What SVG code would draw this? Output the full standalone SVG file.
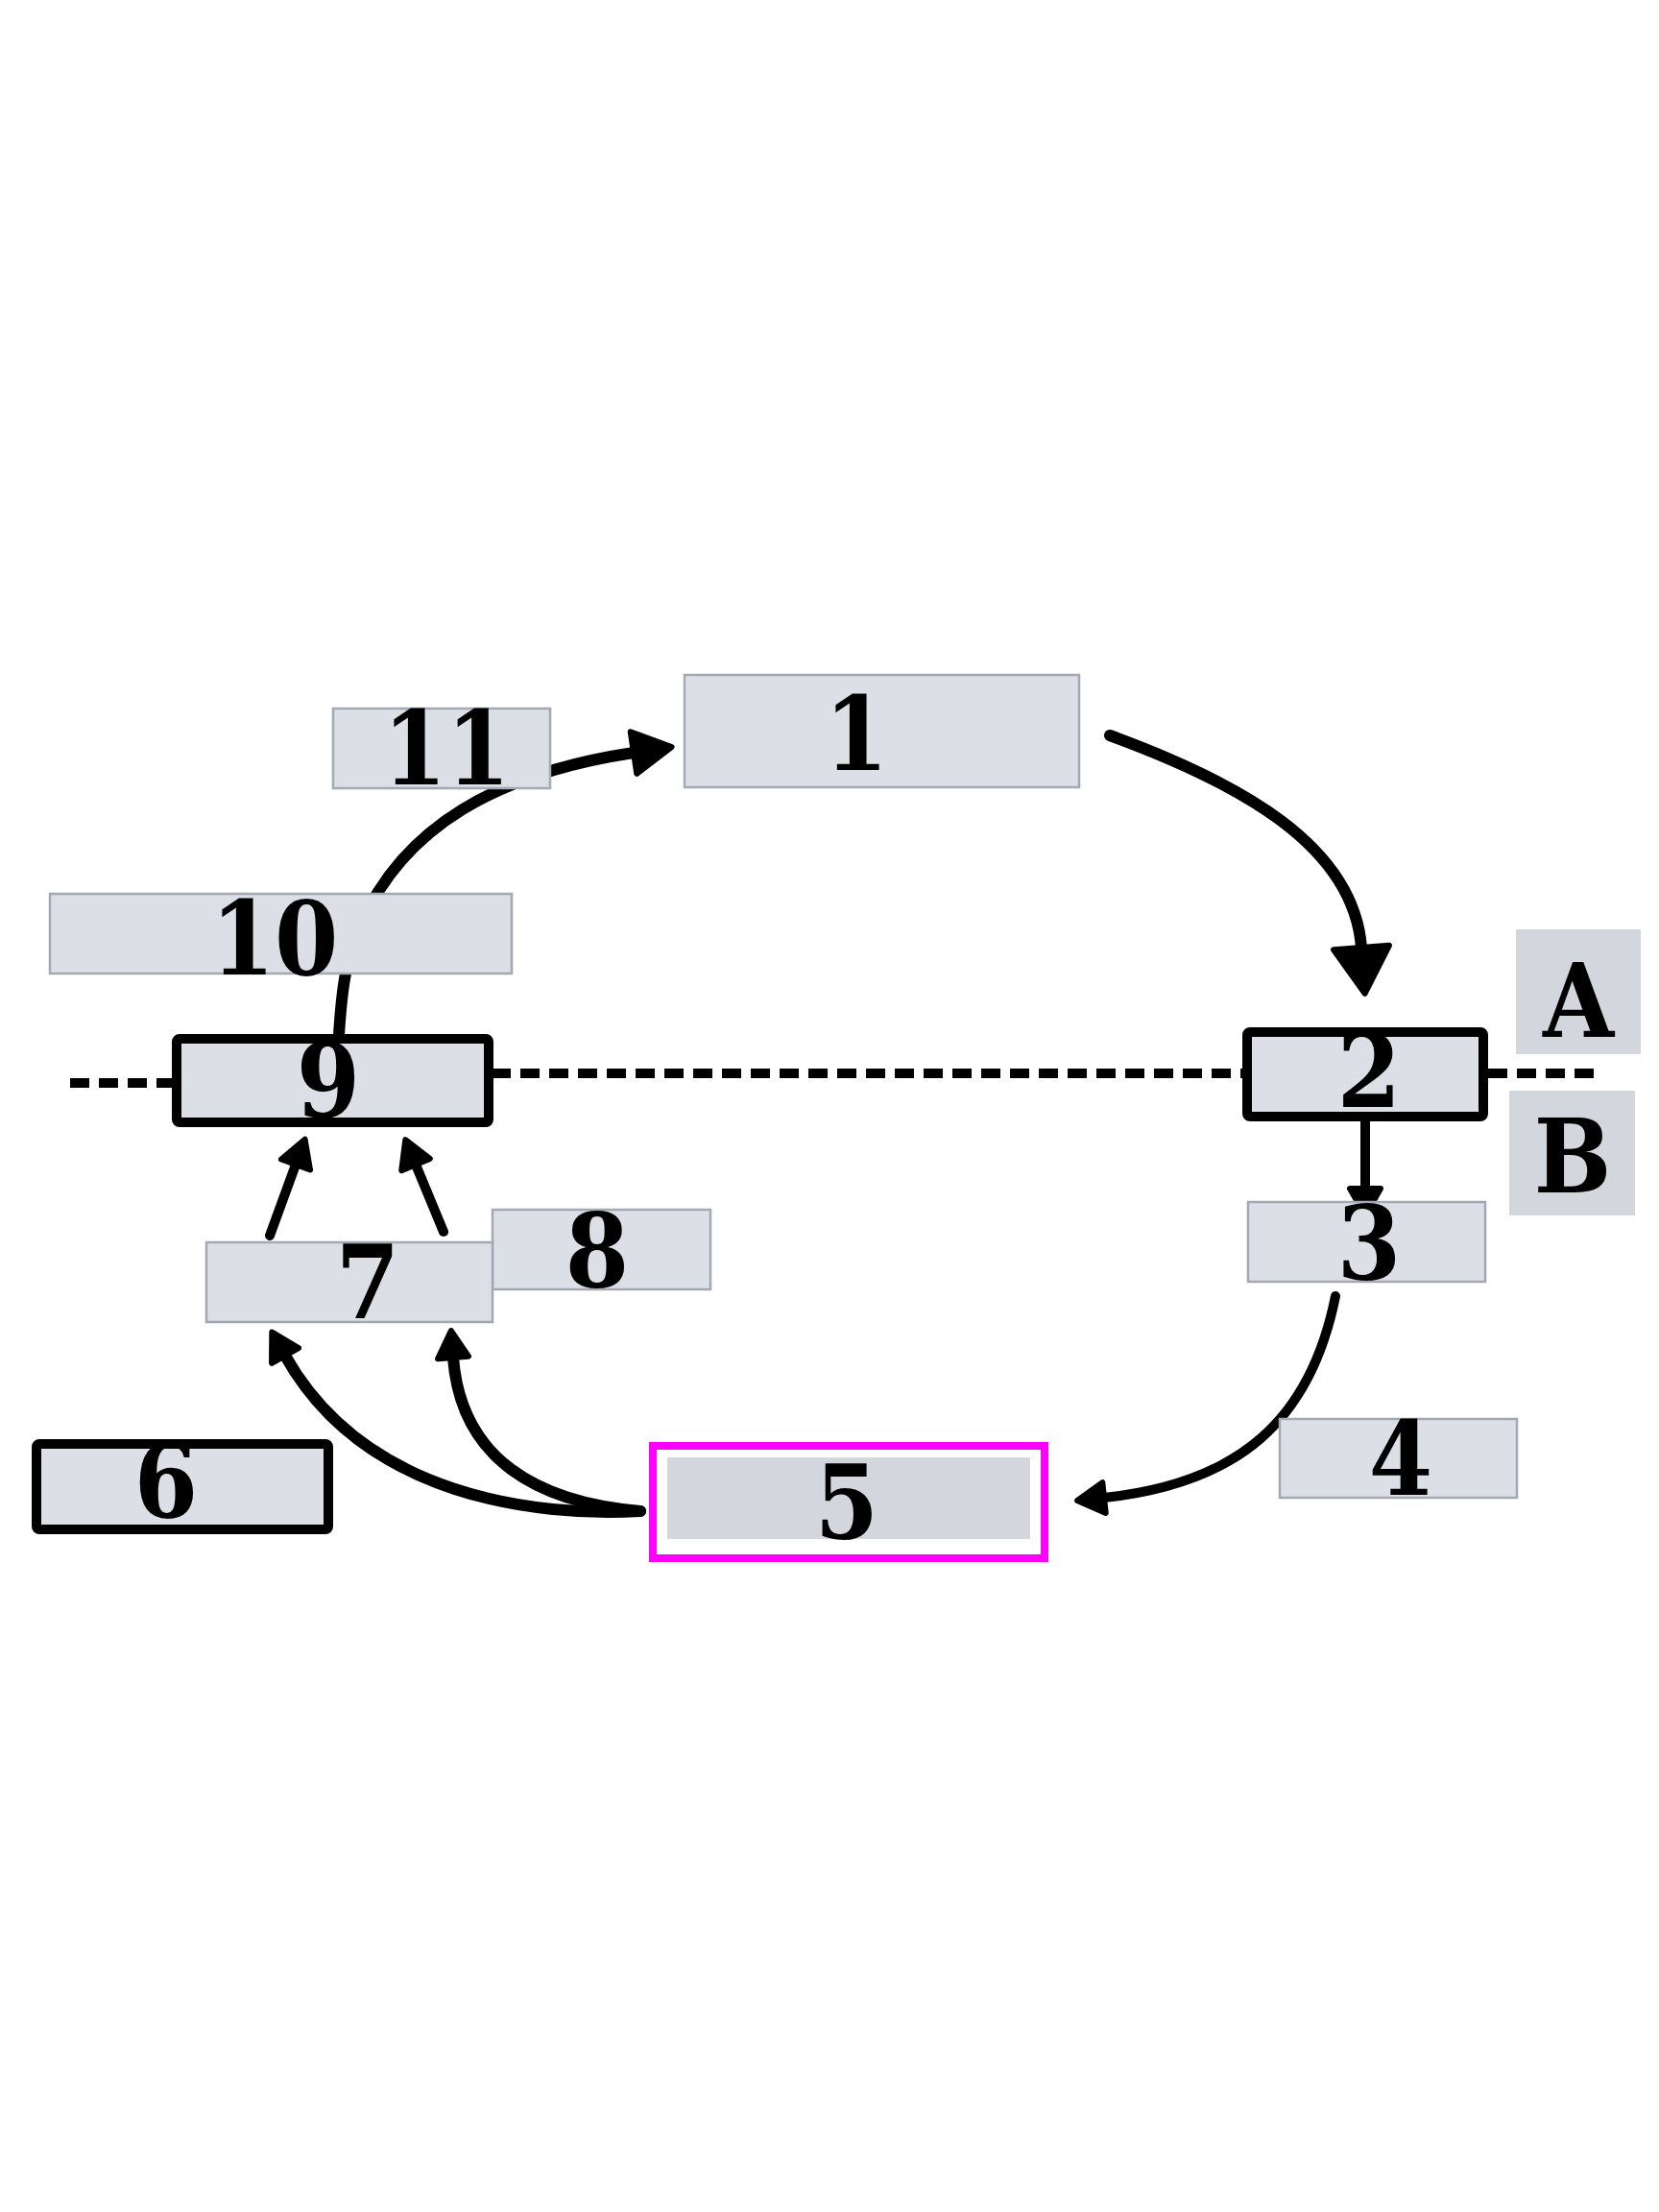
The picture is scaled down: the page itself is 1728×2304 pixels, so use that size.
<svg xmlns="http://www.w3.org/2000/svg" width="1728" height="2304" viewBox="0 0 1728 2304">
<style>
.lbl{font-family:"DejaVu Serif","Liberation Serif",serif;font-stretch:semi-condensed;font-weight:bold;font-size:106px;fill:#000;text-anchor:middle}
.box{fill:#dce0e6;stroke:#a3a8b5;stroke-width:2.5}
.tbox{fill:#dce0e6;stroke:#000;stroke-width:10}
.plain{fill:#d3d7dd;stroke:none}
.con{fill:none;stroke:#000;stroke-width:12;stroke-linecap:round}
.thin{stroke-width:10}
.dash{fill:none;stroke:#000;stroke-width:10;stroke-dasharray:20 10}
.head{fill:#000;stroke:#000;stroke-width:6;stroke-linejoin:round}
</style>
<defs>
<marker id="bigHead" markerUnits="userSpaceOnUse" markerWidth="64" markerHeight="74" viewBox="-6 -37 64 74" refX="0" refY="0" orient="auto">
<path class="head" d="M0,-29 L48,0 L0,29 Z"/>
</marker>
<marker id="midHead" markerUnits="userSpaceOnUse" markerWidth="56" markerHeight="60" viewBox="-6 -30 56 60" refX="0" refY="0" orient="auto">
<path class="head" d="M0,-22 L40,0 L0,22 Z"/>
</marker>
<marker id="smallHead" markerUnits="userSpaceOnUse" markerWidth="44" markerHeight="48" viewBox="-6 -24 44 48" refX="0" refY="0" orient="auto">
<path class="head" d="M0,-16 L28,0 L0,16 Z"/>
</marker>
</defs>
<rect width="1728" height="2304" fill="#fff"/>
<g id="connectors">
<path class="dash" d="M73,1128 L180,1128"/>
<path class="dash" d="M512,1118 L1295,1118"/>
<path class="dash" d="M1550,1118 L1665,1118"/>
<path class="con" d="M1156,766 C1290,815 1410,880 1418,987" marker-end="url(#bigHead)"/>
<path class="con" d="M353,1078 C356,1030 360,1000 375,965 C420,860 520,805 660,784" marker-end="url(#midHead)"/>
<path class="con thin" d="M1422,1168 L1422,1238" marker-end="url(#smallHead)"/>
<path class="con thin" d="M1391,1350 C1365,1480 1290,1545 1150,1560" marker-end="url(#smallHead)"/>
<path class="con" d="M667,1574 C560,1580 380,1560 297,1412" marker-end="url(#smallHead)"/>
<path class="con" d="M667,1574 C560,1565 480,1520 472,1414" marker-end="url(#smallHead)"/>
<path class="con thin" d="M281,1287 L308,1213" marker-end="url(#smallHead)"/>
<path class="con thin" d="M462,1283 L433,1213" marker-end="url(#smallHead)"/>
</g>
<g id="node-1"><rect class="box" x="713" y="703" width="411" height="117"/><text class="lbl" x="892" y="802">1</text></g>
<g id="node-11"><rect class="box" x="347" y="738" width="226" height="83"/><text class="lbl" x="465" y="817">11</text></g>
<g id="node-10"><rect class="box" x="52" y="931" width="481" height="83"/><text class="lbl" x="286" y="1015">10</text></g>
<g id="node-9"><rect class="tbox" x="184" y="1082" width="325" height="87" rx="3"/><text class="lbl" x="342" y="1163">9</text></g>
<g id="node-2"><rect class="tbox" x="1299" y="1075" width="246" height="88" rx="3"/><text class="lbl" x="1426" y="1153">2</text></g>
<g id="node-A"><rect class="plain" x="1579" y="968" width="130" height="130"/><text class="lbl" x="1644" y="1080">A</text></g>
<g id="node-B"><rect class="plain" x="1572" y="1136" width="131" height="130"/><text class="lbl" x="1638" y="1242">B</text></g>
<g id="node-3"><rect class="box" x="1300" y="1252" width="247" height="83"/><text class="lbl" x="1426" y="1332">3</text></g>
<g id="node-8"><rect class="box" x="513" y="1260" width="227" height="83"/><text class="lbl" x="622" y="1340">8</text></g>
<g id="node-7"><rect class="box" x="215" y="1294" width="298" height="83"/><text class="lbl" x="383" y="1373">7</text></g>
<g id="node-6"><rect class="tbox" x="38" y="1504" width="304" height="89" rx="3"/><text class="lbl" x="173" y="1580">6</text></g>
<g id="node-4"><rect class="box" x="1333" y="1478" width="247" height="82"/><text class="lbl" x="1459" y="1557">4</text></g>
<g id="node-5"><rect x="680" y="1506" width="408" height="117" fill="none" stroke="#ff00ff" stroke-width="8"/><rect class="plain" x="695" y="1518" width="378" height="85"/><text class="lbl" x="882" y="1602">5</text></g>
</svg>
